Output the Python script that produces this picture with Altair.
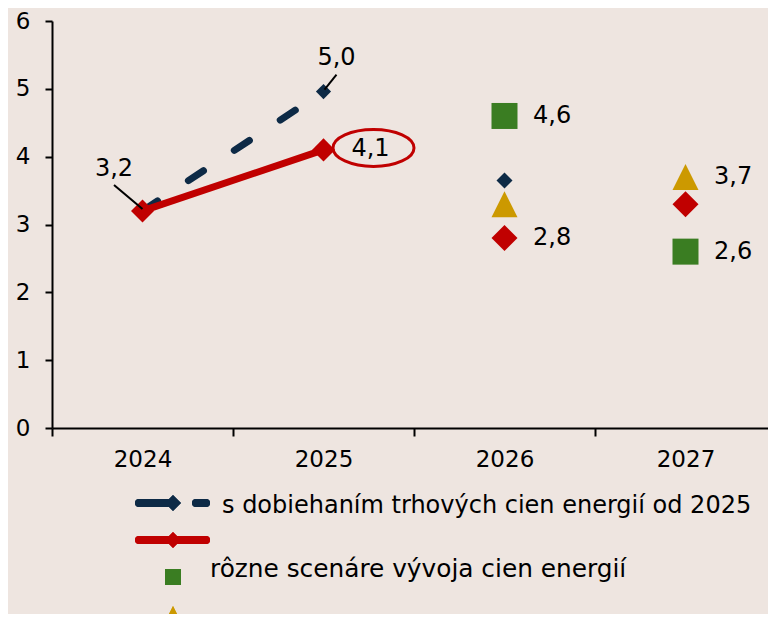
import altair as alt
import pandas as pd

# ---------------- data ----------------
line_years = [2024, 2025]
navy_line = [3.2, 4.96]
red_line = [3.2, 4.1]

scen_years = [2026, 2027]
green_scen = [4.6, 2.6]
yellow_scen = [3.3, 3.7]
red_scen = [2.8, 3.3]
navy_scen_years = [2026]
navy_scen = [3.65]

x_tick_values = [2023.5, 2024.5, 2025.5, 2026.5]
y_tick_values = [0, 1, 2, 3, 4, 5, 6]
legend_labels = ["s dobiehaním trhových cien energií od 2025",
                 "rôzne scenáre vývoja cien energií"]

NAVY = "#0D2A46"
RED = "#C00000"
GREEN = "#3A7D22"
YELLOW = "#CC9900"
FONT = "DejaVu Sans"
FS = 23
FS_LAB = 24
FS_LEG1 = 24
FS_LEG2 = 24.8

PLOT_W = 716
PLOT_H = 407
BAND = 181  # pixels per year
X_MAX = 2023.5 + PLOT_W / BAND


def fmt(v):
    return f"{v:.1f}".replace(".", ",")


navy_df = pd.DataFrame({"year": line_years, "val": navy_line})
red_df = pd.DataFrame({"year": line_years, "val": red_line})
green_df = pd.DataFrame({"year": scen_years, "val": green_scen})
yellow_df = pd.DataFrame({"year": scen_years, "val": yellow_scen})
redsc_df = pd.DataFrame({"year": scen_years, "val": red_scen})
navysc_df = pd.DataFrame({"year": navy_scen_years, "val": navy_scen})

X = alt.X("year:Q",
          scale=alt.Scale(domain=[2023.5, X_MAX], nice=False, zero=False),
          axis=alt.Axis(values=x_tick_values,
                        labelExpr="toString(datum.value + 0.5)",
                        labelOffset=BAND / 2, labelFlush=False, labelOverlap=False,
                        labelBound=False,
                        tickSize=8, tickWidth=2, tickColor="black",
                        domainColor="black", domainWidth=2,
                        labelFont=FONT, labelFontSize=FS, labelColor="black",
                        labelPadding=12, grid=False, title=None))
Y = alt.Y("val:Q",
          scale=alt.Scale(domain=[0, 6], nice=False),
          axis=alt.Axis(values=y_tick_values, tickSize=7, tickWidth=2, tickColor="black",
                        domainColor="black", domainWidth=2,
                        labelFont=FONT, labelFontSize=FS, labelColor="black",
                        labelPadding=15, grid=False, title=None))

navy_line_l = alt.Chart(navy_df).mark_line(
    color=NAVY, strokeWidth=7, strokeDash=[18, 37], strokeCap="round"
).encode(x=X, y=Y)
navy_pt = alt.Chart(navy_df[navy_df.year == 2025]).mark_point(
    shape="diamond", filled=True, color=NAVY, size=230, opacity=1, strokeWidth=0
).encode(x=X, y=Y)
red_line_l = alt.Chart(red_df).mark_line(color=RED, strokeWidth=7).encode(x=X, y=Y)
red_pts = alt.Chart(red_df).mark_point(
    shape="diamond", filled=True, color=RED, size=530, opacity=1, strokeWidth=0
).encode(x=X, y=Y)

TRI = "M0,-1L1,1L-1,1Z"
green_pts = alt.Chart(green_df).mark_point(
    shape="square", filled=True, color=GREEN, size=676, opacity=1, strokeWidth=0
).encode(x=X, y=Y)
yellow_pts = alt.Chart(yellow_df).mark_point(
    shape=TRI, filled=True, color=YELLOW, size=676, opacity=1, strokeWidth=0
).encode(x=X, y=Y)
redsc_pts = alt.Chart(redsc_df).mark_point(
    shape="diamond", filled=True, color=RED, size=676, opacity=1, strokeWidth=0
).encode(x=X, y=Y)
navysc_pts = alt.Chart(navysc_df).mark_point(
    shape="diamond", filled=True, color=NAVY, size=256, opacity=1, strokeWidth=0
).encode(x=X, y=Y)

# annotations
lab32 = pd.DataFrame({"year": [2024], "val": [red_line[0]], "t": [fmt(red_line[0])]})
lab50 = pd.DataFrame({"year": [2025], "val": [navy_line[1]], "t": [fmt(navy_line[1])]})
lab41 = pd.DataFrame({"year": [2025], "val": [red_line[1]], "t": [fmt(red_line[1])]})
scen_labels = pd.DataFrame({
    "year": [2026, 2026, 2027, 2027],
    "val": [green_scen[0], red_scen[0], yellow_scen[1], green_scen[1]],
})
scen_labels["t"] = scen_labels["val"].map(fmt)

txt = dict(font=FONT, fontSize=FS_LAB, color="black")
t32 = alt.Chart(lab32).mark_text(align="center", baseline="alphabetic", dx=-28.5, dy=-35, **txt).encode(x=X, y=Y, text="t:N")
r32 = alt.Chart(lab32).mark_rule(color="black", strokeWidth=2, yOffset=-2, x2Offset=-28.5, y2Offset=-26).encode(x=X, y=Y, x2="year:Q", y2="val:Q")
t50 = alt.Chart(lab50).mark_text(align="center", baseline="alphabetic", dx=13, dy=-27, **txt).encode(x=X, y=Y, text="t:N")
r50 = alt.Chart(lab50).mark_rule(color="black", strokeWidth=2, xOffset=1, yOffset=-2, x2Offset=13, y2Offset=-17).encode(x=X, y=Y, x2="year:Q", y2="val:Q")
t41 = alt.Chart(lab41).mark_text(align="center", baseline="middle", dx=47, dy=-1, **txt).encode(x=X, y=Y, text="t:N")
ELL = "M-1,0A1,0.457,0,1,0,1,0A1,0.457,0,1,0,-1,0Z"
e41 = alt.Chart(lab41).mark_point(shape=ELL, filled=False, color=RED, strokeWidth=3, size=6561, opacity=1, xOffset=50, yOffset=-2).encode(x=X, y=Y)
tsc = alt.Chart(scen_labels).mark_text(align="left", baseline="middle", dx=28.5, **txt).encode(x=X, y=Y, text="t:N")

# manual legend (pixel layout relative to plot area)
leg_df = pd.DataFrame({"t": legend_labels})
lg = []
lg.append(alt.Chart(leg_df).mark_rule(color=NAVY, strokeWidth=8, strokeCap="round").encode(
    x=alt.value(87), x2=alt.value(117), y=alt.value(482)))
lg.append(alt.Chart(leg_df).mark_rule(color=NAVY, strokeWidth=8, strokeCap="round").encode(
    x=alt.value(144), x2=alt.value(154), y=alt.value(482)))
lg.append(alt.Chart(leg_df).mark_point(shape="diamond", filled=True, color=NAVY, size=256, opacity=1, strokeWidth=0).encode(
    x=alt.value(121), y=alt.value(482)))
lg.append(alt.Chart(leg_df).mark_rule(color=RED, strokeWidth=8, strokeCap="round").encode(
    x=alt.value(87), x2=alt.value(154), y=alt.value(519)))
lg.append(alt.Chart(leg_df).mark_point(shape="diamond", filled=True, color=RED, size=256, opacity=1, strokeWidth=0).encode(
    x=alt.value(121), y=alt.value(519)))
lg.append(alt.Chart(leg_df).mark_point(shape="square", filled=True, color=GREEN, size=256, opacity=1, strokeWidth=0).encode(
    x=alt.value(121), y=alt.value(556)))
lg.append(alt.Chart(leg_df).mark_point(shape=TRI, filled=True, color=YELLOW, size=256, opacity=1, strokeWidth=0).encode(
    x=alt.value(121), y=alt.value(593)))
lg.append(alt.Chart(leg_df).transform_filter(alt.datum.t == legend_labels[0]).mark_text(
    align="left", baseline="alphabetic", font=FONT, fontSize=FS_LEG1, color="black").encode(
    x=alt.value(170), y=alt.value(492), text="t:N"))
lg.append(alt.Chart(leg_df).transform_filter(alt.datum.t == legend_labels[1]).mark_text(
    align="left", baseline="alphabetic", font=FONT, fontSize=FS_LEG2, color="black").encode(
    x=alt.value(158), y=alt.value(556), text="t:N"))

chart = alt.layer(
    navy_line_l, red_line_l, navy_pt, red_pts,
    green_pts, yellow_pts, redsc_pts, navysc_pts,
    r32, t32, r50, t50, e41, t41, tsc, *lg
).properties(
    width=PLOT_W, height=PLOT_H,
    autosize=alt.AutoSizeParams(type="none"),
    padding={"left": 44, "top": 13, "right": 0, "bottom": 186},
    background="#EEE5E0",
).configure_view(stroke=None)

chart.save("out.html", embed_options={"renderer": "svg", "actions": False})
